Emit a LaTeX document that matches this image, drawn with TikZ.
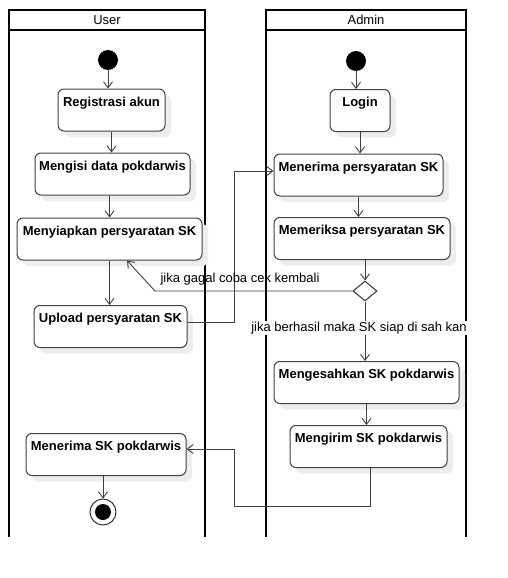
\documentclass[tikz,border=0pt]{standalone}
\usepackage{fontspec}
\setmainfont{Liberation Sans}
\usetikzlibrary{arrows.meta,shapes.geometric,shadows}

\tikzset{
  aksi/.style={draw=black!75, line width=1pt, rounded corners=6pt, fill=white,
    drop shadow={shadow xshift=6pt, shadow yshift=-6pt, fill=black!7, opacity=1},
    inner xsep=0pt, inner ysep=0pt, text height=17pt, text depth=25pt,
    font=\fontsize{13}{15}\selectfont\bfseries},
  awal/.style={circle, fill=black, minimum size=20pt, inner sep=0pt},
  akhir/.style={circle, draw=black!80, line width=1pt, minimum size=26pt, inner sep=0pt,
    path picture={\fill[black] (path picture bounding box.center) circle (8pt);}},
  cabang/.style={diamond, draw=black!80, line width=1pt, fill=white, inner sep=0pt,
    minimum width=24pt, minimum height=20pt},
  panah/.style={draw=black!75, line width=0.9pt, -{Straight Barb[length=6pt,width=9pt]}},
  lajur/.style={draw=black, line width=2pt},
  ket/.style={font=\fontsize{13}{15}\selectfont, inner sep=1pt},
}

\begin{document}
\begin{tikzpicture}[x=1pt,y=-1pt]
  \useasboundingbox (0,0) rectangle (507,578);

  % swimlanes
  \draw[lajur] (9,10) rectangle (205,30);
  \draw[lajur] (9,30) -- (9,537) (205,30) -- (205,537);
  \node[ket] (hUser) at (107,20) {User};
  \draw[lajur] (266,10) rectangle (466,30);
  \draw[lajur] (266,30) -- (266,537) (466,30) -- (466,537);
  \node[ket] (hAdmin) at (366,20) {Admin};

  % user
  \node[awal] (mulaiU) at (108,60) {};
  \node[aksi, minimum width=107pt] (regis) at (111.5,110) {Registrasi akun};
  \node[aksi, minimum width=155pt] (isiData) at (112.5,174) {Mengisi data pokdarwis};
  \node[aksi, minimum width=185pt] (siapSK) at (109.5,239) {Menyiapkan persyaratan SK};
  \node[aksi, minimum width=153pt] (uploadSK) at (110.5,326.5) {Upload persyaratan SK};
  \node[aksi, minimum width=160pt] (terimaSK) at (106,454.5) {Menerima SK pokdarwis};
  \node[akhir] (selesai) at (103,512) {};

  % admin
  \node[awal] (mulaiA) at (356,61) {};
  \node[aksi, minimum width=60pt] (login) at (360,110.5) {Login};
  \node[aksi, minimum width=169pt] (terimaPs) at (358.5,175) {Menerima persyaratan SK};
  \node[aksi, minimum width=176pt] (periksa) at (362,238.5) {Memeriksa persyaratan SK};
  \node[cabang] (cek) at (365,291) {};
  \node[aksi, minimum width=185pt] (sahkan) at (366.5,382.5) {Mengesahkan SK pokdarwis};
  \node[aksi, minimum width=157pt] (kirim) at (368.5,446.5) {Mengirim SK pokdarwis};

  % bends
  \coordinate (tekukA) at (234,322);
  \coordinate (tekukB) at (234,506);
  \coordinate (tekukC) at (155,291);

  % flows
  \draw[panah] (mulaiU) -- (mulaiU |- regis.north);
  \draw[panah] (regis.south) -- (regis.south |- isiData.north);
  \draw[panah] (siapSK.north |- isiData.south) -- (siapSK.north);
  \draw[panah] (siapSK.south) -- (siapSK.south |- uploadSK.north);
  \draw[panah] (uploadSK.east |- tekukA) -- (tekukA) |- ([yshift=4pt]terimaPs.west);
  \draw[panah] (mulaiA) -- (mulaiA |- login.north);
  \draw[panah] (login.south) -- (login.south |- terimaPs.north);
  \draw[panah] (terimaPs.south) -- (terimaPs.south |- periksa.north);
  \draw[panah] (cek.north |- periksa.south) -- (cek.north);
  \draw[panah] (cek.west) -- (tekukC) -- ([xshift=17.5pt]siapSK.south);
  \draw[panah] (cek.south) -- (cek.south |- sahkan.north);
  \draw[panah] (sahkan.south) -- (sahkan.south |- kirim.north);
  \draw[panah] ([xshift=1.5pt]kirim.south) |- (tekukB) |- ([yshift=5.5pt]terimaSK.east);
  \draw[panah] (selesai.north |- terimaSK.south) -- (selesai.north);

  % guard labels
  \node[ket] (gagal) at (240,279) {jika gagal coba cek kembali};
  \node[ket, fill=white] (berhasil) at (359,328) {jika berhasil maka SK siap di sah kan};
\end{tikzpicture}
\end{document}
